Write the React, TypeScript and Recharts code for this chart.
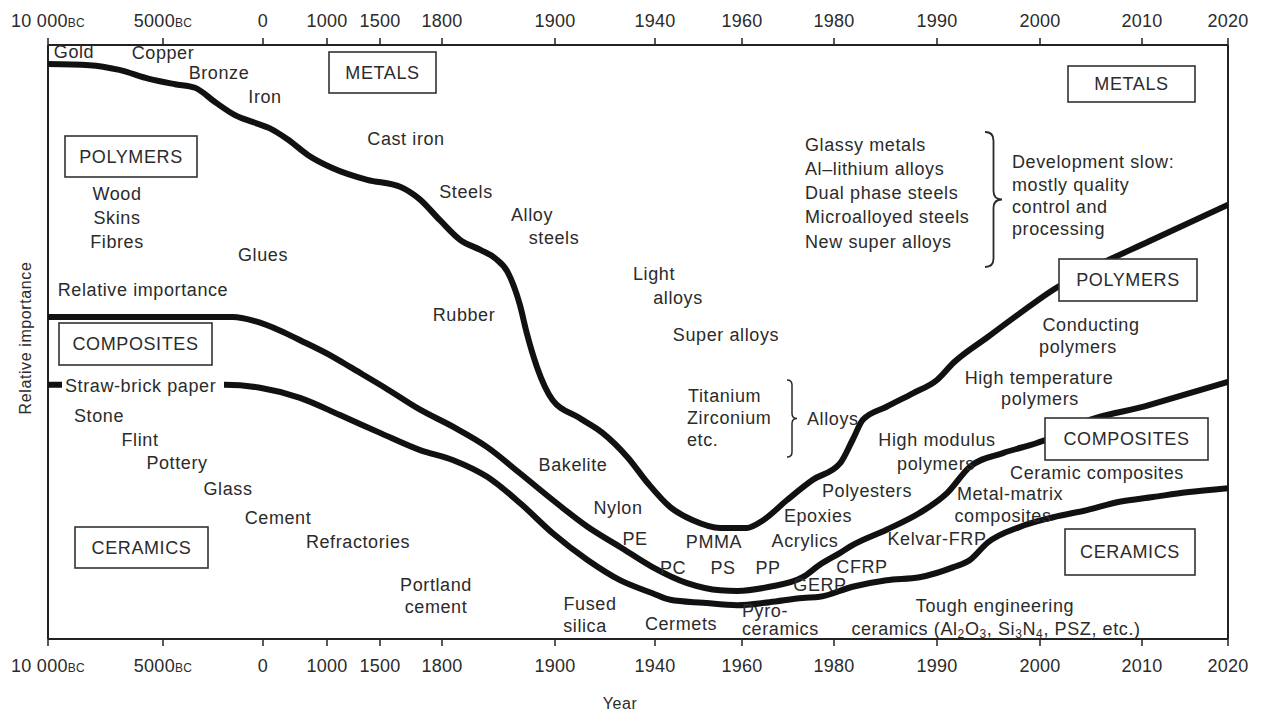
import React from 'react';
import { LineChart, Line, XAxis, YAxis, ReferenceLine } from 'recharts';

// Nonlinear year axis: labelled years and where each sits along the axis (0..1180)
const AXIS_YEARS = [-10000, -5000, 0, 1000, 1500, 1800, 1900, 1940, 1960, 1980, 1990, 2000, 2010, 2020];
const AXIS_U = [0, 115, 215, 279, 332, 394, 507, 607, 694, 786, 889, 992, 1094, 1180];
const AXIS_LABELS = ['10 000', '5000', '0', '1000', '1500', '1800', '1900', '1940', '1960', '1980', '1990', '2000', '2010', '2020'];
const AXIS_BC = [true, true, false, false, false, false, false, false, false, false, false, false, false, false];

// relative importance, 0..100
const METALS_YEARS = [-10000, -8200, -6900, -5600, -4400, -3400, -2400, -1400, -400, 100, 400, 700, 1050, 1380, 1600, 1690, 1790, 1816, 1834, 1847, 1858, 1869, 1875, 1884, 1898, 1909, 1919, 1929, 1937, 1943.5, 1948.7, 1955, 1961, 1964.6, 1969.8, 1975.4, 1980.6, 1981.8, 1982.8, 1985.1, 1987.7, 1990, 1991.6, 1994.9, 1998.1, 2001.3, 2004.6, 2010.9, 2020];
const METALS_VALUES = [96.8, 96.6, 95.8, 94.3, 93.4, 92.8, 90.4, 88.2, 86.9, 86.0, 84.0, 81.5, 79.3, 77.3, 76.1, 74.1, 70.5, 67.2, 65.5, 64.1, 61.8, 56.2, 51.5, 45.8, 40.2, 37.4, 34.7, 30.6, 26.3, 22.2, 20.0, 18.7, 18.7, 20.0, 23.4, 26.8, 29.6, 33.5, 36.9, 39.1, 41.4, 43.6, 46.5, 50.8, 54.9, 58.8, 62.0, 67.0, 73.1];

const COMPOSITES_YEARS = [-10000, -5600, -1500, -400, 270, 580, 1057, 1217, 1524, 1694, 1810, 1840, 1869, 1898, 1913, 1926, 1939, 1947.4, 1955, 1958.9, 1966, 1973.2, 1976.9, 1980.6, 1981.8, 1985.1, 1988.3, 1991, 1993.2, 1996.4, 1999.7, 2001.3, 2002.9, 2010.9, 2020];
const COMPOSITES_VALUES = [54.2, 54.2, 54.2, 53.5, 51.9, 50.3, 47.5, 45.8, 42.3, 38.6, 35.7, 32.3, 27.9, 23.4, 18.9, 15.5, 12.1, 9.4, 8.2, 8.1, 8.8, 10.4, 12.5, 14.5, 15.8, 18.4, 21.2, 24.6, 29.0, 31.3, 33.0, 34.0, 35.5, 39.4, 43.3];

const CERAMICS_YEARS = [-10000, -5600, -1900, -150, 578, 1123, 1500, 1694, 1810, 1840, 1869, 1898, 1913, 1926, 1939, 1943.5, 1951, 1958.9, 1966, 1973.2, 1976.9, 1981.8, 1985.1, 1988.3, 1991.6, 1993.2, 1994.9, 1998.1, 2001.3, 2004.6, 2007.8, 2011.3, 2015.2, 2020];
const CERAMICS_VALUES = [42.8, 42.8, 42.8, 42.3, 40.6, 37.7, 34.7, 31.8, 30.1, 27.3, 22.9, 17.8, 13.3, 9.9, 7.7, 6.6, 6.1, 5.7, 6.2, 6.9, 7.1, 8.8, 9.9, 10.4, 12.1, 13.3, 16.2, 18.9, 20.5, 21.7, 23.1, 23.9, 24.7, 25.4];

// annotation text: [text, x, y, anchor]
const NOTES: [string, number, number, string?][] = [
  ['Gold', 74, 52], ['Copper', 163, 53], ['Bronze', 219, 73], ['Iron', 265, 97],
  ['Cast iron', 406, 139], ['Steels', 466, 192], ['Alloy', 532, 215], ['steels', 554, 238],
  ['Wood', 117, 194], ['Skins', 117, 218], ['Fibres', 117, 242], ['Glues', 263, 255],
  ['Relative importance', 143, 290], ['Rubber', 464, 315], ['Light', 654, 274], ['alloys', 678, 298],
  ['Super alloys', 726, 335], ['Titanium', 688, 396, 'start'], ['Zirconium', 687, 418, 'start'],
  ['etc.', 687, 440, 'start'], ['Alloys', 807, 419, 'start'],
  ['Glassy metals', 805, 145, 'start'], ['Al–lithium alloys', 805, 169, 'start'],
  ['Dual phase steels', 805, 193, 'start'], ['Microalloyed steels', 805, 217, 'start'],
  ['New super alloys', 805, 242, 'start'],
  ['Development slow:', 1012, 162, 'start'], ['mostly quality', 1012, 185, 'start'],
  ['control and', 1012, 207, 'start'], ['processing', 1012, 229, 'start'],
  ['Conducting', 1091, 325], ['polymers', 1078, 347], ['High temperature', 1039, 378], ['polymers', 1040, 399],
  ['High modulus', 937, 440], ['polymers', 936, 464], ['Polyesters', 867, 491], ['Epoxies', 818, 516],
  ['Acrylics', 805, 541], ['Kelvar-FRP', 937, 539], ['CFRP', 862, 567], ['GERP', 820, 585],
  ['Ceramic composites', 1097, 473], ['Metal-matrix', 1010, 494], ['composites', 1003, 516],
  ['Tough engineering', 995, 606],
  ['Bakelite', 573, 465], ['Nylon', 618, 508], ['PE', 635, 539], ['PMMA', 714, 542],
  ['PC', 673, 568], ['PS', 723, 568], ['PP', 768, 568], ['Fused', 590, 604], ['silica', 585, 626],
  ['Cermets', 681, 624], ['Pyro-', 742, 611, 'start'], ['ceramics', 742, 629, 'start'],
  ['Portland', 436, 585], ['cement', 436, 607], ['Refractories', 358, 542], ['Cement', 278, 518],
  ['Glass', 228, 489], ['Pottery', 177, 463], ['Flint', 140, 440], ['Stone', 99, 416],
];

// class boxes: [label, x, y, w, h]
const BOXES: [string, number, number, number, number][] = [
  ['METALS', 329, 52, 107, 41], ['METALS', 1068, 66, 127, 36], ['POLYMERS', 65, 136, 132, 41],
  ['COMPOSITES', 59, 323, 153, 42], ['CERAMICS', 75, 527, 133, 41], ['POLYMERS', 1059, 259, 138, 42],
  ['COMPOSITES', 1045, 418, 163, 42], ['CERAMICS', 1065, 529, 130, 46],
];

const FONT = '"Liberation Sans", Arial, sans-serif';
const INK = '#2b2b2b';

function yearToU(year: number): number {
  for (let i = 0; i < AXIS_YEARS.length - 1; i++) {
    if (year <= AXIS_YEARS[i + 1]) {
      const t = (year - AXIS_YEARS[i]) / (AXIS_YEARS[i + 1] - AXIS_YEARS[i]);
      return AXIS_U[i] + t * (AXIS_U[i + 1] - AXIS_U[i]);
    }
  }
  return AXIS_U[AXIS_U.length - 1];
}

const toSeries = (years: number[], values: number[]) => years.map((y, i) => ({ u: yearToU(y), v: values[i] }));

function YearTick({ x, payload, top }: any) {
  const i = AXIS_U.findIndex((u) => Math.abs(u - payload.value) < 0.5);
  if (i < 0) return null;
  return (
    <text x={x} y={top ? 27 : 672} textAnchor="middle" fill={INK} fontFamily={FONT} fontSize={18} letterSpacing={0.3}>
      {AXIS_LABELS[i]}
      {AXIS_BC[i] && <tspan fontSize={12}>BC</tspan>}
    </text>
  );
}

function bracePath(x: number, y1: number, y2: number, w: number) {
  const m = (y1 + y2) / 2;
  const h = w / 2;
  return `M${x},${y1} Q${x + h},${y1} ${x + h},${y1 + h} L${x + h},${m - h} Q${x + h},${m} ${x + w},${m} Q${x + h},${m} ${x + h},${m + h} L${x + h},${y2 - h} Q${x + h},${y2} ${x},${y2}`;
}

export default function App() {
  const textProps = { fill: INK, fontFamily: FONT, fontSize: 18, letterSpacing: 0.6, dominantBaseline: 'central' as const };
  return (
    <div style={{ position: 'absolute', left: 0, top: 0, width: 1263, height: 713, background: '#fff' }}>
      <LineChart width={1263} height={713} margin={{ top: 15, right: 35, bottom: 44, left: 48 }}>
        <XAxis xAxisId="b" dataKey="u" type="number" domain={[0, 1180]} ticks={AXIS_U} allowDataOverflow
          orientation="bottom" height={30} tickSize={7}
          axisLine={{ stroke: '#222', strokeWidth: 2 }} tickLine={{ stroke: '#222', strokeWidth: 1.5 }}
          tick={(p: any) => <YearTick {...p} />} />
        <XAxis xAxisId="t" dataKey="u" type="number" domain={[0, 1180]} ticks={AXIS_U} allowDataOverflow
          orientation="top" height={30} tickSize={7}
          axisLine={{ stroke: '#222', strokeWidth: 2 }} tickLine={{ stroke: '#222', strokeWidth: 1.5 }}
          tick={(p: any) => <YearTick {...p} top />} />
        <YAxis type="number" domain={[0, 100]} hide />
        <ReferenceLine xAxisId="b" x={0} stroke="#222" strokeWidth={2} />
        <ReferenceLine xAxisId="b" x={1180} stroke="#222" strokeWidth={2} />
        <Line xAxisId="b" data={toSeries(METALS_YEARS, METALS_VALUES)} dataKey="v" type="monotone" stroke="#111" strokeWidth={6} dot={false} isAnimationActive={false} />
        <Line xAxisId="b" data={toSeries(COMPOSITES_YEARS, COMPOSITES_VALUES)} dataKey="v" type="monotone" stroke="#111" strokeWidth={6} dot={false} isAnimationActive={false} />
        <Line xAxisId="b" data={toSeries(CERAMICS_YEARS, CERAMICS_VALUES)} dataKey="v" type="monotone" stroke="#111" strokeWidth={6} dot={false} isAnimationActive={false} />
      </LineChart>
      <svg width={1263} height={713} style={{ position: 'absolute', left: 0, top: 0, pointerEvents: 'none' }}>
        {BOXES.map(([label, x, y, w, h], i) => (
          <g key={'b' + i}>
            <rect x={x} y={y} width={w} height={h} fill="#fff" stroke="#333" strokeWidth={1.6} />
            <text x={x + w / 2} y={y + h / 2} textAnchor="middle" {...textProps}>{label}</text>
          </g>
        ))}
        {NOTES.map(([t, x, y, anchor], i) => (
          <text key={'n' + i} x={x} y={y} textAnchor={(anchor as any) || 'middle'} {...textProps}>{t}</text>
        ))}
        <rect x={62} y={376} width={162} height={20} fill="#fff" />
        <text x={65} y={386} textAnchor="start" {...textProps}>Straw-brick paper</text>
        <text x={996} y={629} textAnchor="middle" {...textProps}>
          ceramics (Al<tspan fontSize={12} dy={5}>2</tspan><tspan dy={-5}>O</tspan><tspan fontSize={12} dy={5}>3</tspan>
          <tspan dy={-5}>, Si</tspan><tspan fontSize={12} dy={5}>3</tspan><tspan dy={-5}>N</tspan><tspan fontSize={12} dy={5}>4</tspan>
          <tspan dy={-5}>, PSZ, etc.)</tspan>
        </text>
        <path d={bracePath(985, 132, 267, 17)} fill="none" stroke={INK} strokeWidth={1.8} />
        <path d={bracePath(787, 380, 457, 10)} fill="none" stroke={INK} strokeWidth={1.5} />
        <text x={620} y={703} textAnchor="middle" {...textProps} fontSize={16}>Year</text>
        <text x={25} y={338} textAnchor="middle" {...textProps} fontSize={16} transform="rotate(-90 25 338)">Relative importance</text>
      </svg>
    </div>
  );
}
